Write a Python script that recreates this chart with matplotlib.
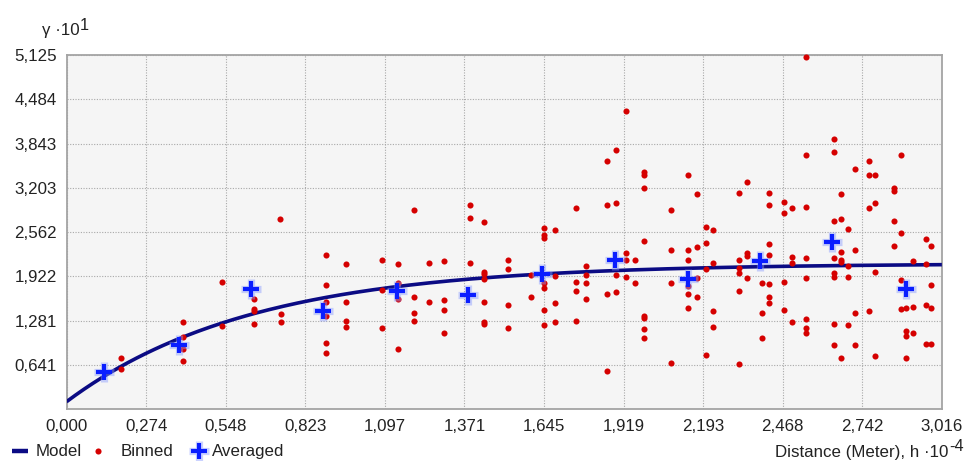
"""
Semivariogram plot: binned and averaged empirical values with the fitted model.
"""

import matplotlib

matplotlib.use("Agg")
import matplotlib.pyplot as plt
import numpy as np
from matplotlib.lines import Line2D

# tick positions and their printed labels
x_max = 3.016
y_max = 5.125
x_tick_labels = ["0,000", "0,274", "0,548", "0,823", "1,097", "1,371",
                 "1,645", "1,919", "2,193", "2,468", "2,742", "3,016"]
y_tick_labels = ["", "0,641", "1,281", "1,922", "2,562", "3,203",
                 "3,843", "4,484", "5,125"]

# exponential model: nugget + partial sill, practical range
nugget = 0.11
partial_sill = 2.0
model_range = 1.91

# averaged semivariance per lag
averaged_h = [0.129, 0.388, 0.635, 0.883, 1.137, 1.384,
              1.639, 1.890, 2.142, 2.391, 2.639, 2.894]
averaged_gamma = [0.544, 0.930, 1.736, 1.422, 1.716, 1.649,
                  1.957, 2.160, 1.881, 2.150, 2.420, 1.736]

# binned semivariance cloud
binned_h = [
    0.187, 0.187, 0.400, 0.400, 0.400, 0.400, 0.537, 0.537, 0.646, 0.646,
    0.646, 0.646, 0.738, 0.738, 0.735, 0.894, 0.894, 0.894, 0.894, 0.894,
    0.894, 0.963, 0.963, 0.963, 0.963, 1.088, 1.088, 1.088, 1.142, 1.142,
    1.142, 1.142, 1.197, 1.197, 1.197, 1.197, 1.250, 1.250, 1.299, 1.299,
    1.299, 1.299, 1.391, 1.391, 1.391, 1.439, 1.439, 1.439, 1.439, 1.439,
    1.439, 1.439, 1.521, 1.521, 1.521, 1.521, 1.601, 1.601, 1.645, 1.645,
    1.645, 1.645, 1.645, 1.645, 1.645, 1.684, 1.684, 1.684, 1.684, 1.754,
    1.754, 1.754, 1.754, 1.791, 1.791, 1.791, 1.791, 1.861, 1.861, 1.861,
    1.861, 1.893, 1.893, 1.893, 1.893, 1.926, 1.926, 1.926, 1.926, 1.958,
    1.958, 1.990, 1.990, 1.990, 1.990, 1.990, 1.990, 1.990, 1.990, 2.083,
    2.083, 2.083, 2.083, 2.142, 2.142, 2.142, 2.142, 2.142, 2.142, 2.174,
    2.174, 2.174, 2.174, 2.202, 2.202, 2.202, 2.202, 2.229, 2.229, 2.229,
    2.229, 2.316, 2.316, 2.316, 2.316, 2.316, 2.316, 2.343, 2.343, 2.343,
    2.343, 2.396, 2.419, 2.419, 2.419, 2.419, 2.419, 2.419, 2.419, 2.397,
    2.397, 2.473, 2.473, 2.473, 2.473, 2.500, 2.500, 2.500, 2.500, 2.547,
    2.547, 2.547, 2.547, 2.547, 2.547, 2.547, 2.547, 2.646, 2.646, 2.667,
    2.646, 2.667, 2.694, 2.667, 2.646, 2.667, 2.667, 2.694, 2.715, 2.646,
    2.646, 2.694, 2.715, 2.646, 2.694, 2.715, 2.646, 2.667, 2.715, 2.765,
    2.765, 2.786, 2.765, 2.786, 2.786, 2.765, 2.786, 2.850, 2.850, 2.874,
    2.850, 2.874, 2.850, 2.874, 2.874, 2.894, 2.916, 2.894, 2.894, 2.916,
    2.894, 2.916, 2.960, 2.980, 2.960, 2.980, 2.960, 2.980, 2.960, 2.980,
]
binned_gamma = [
    0.742, 0.579, 1.263, 1.042, 0.868, 0.694, 1.846, 1.209, 1.596, 1.447,
    1.418, 1.234, 1.374, 1.263, 2.753, 2.232, 1.798, 1.557, 1.350, 0.964,
    0.810, 2.098, 1.552, 1.282, 1.195, 2.160, 1.726, 1.172, 2.098, 1.832,
    1.600, 0.877, 2.883, 1.625, 1.398, 1.282, 2.121, 1.552, 2.141, 1.577,
    1.441, 1.100, 2.951, 2.772, 2.121, 2.705, 1.986, 1.953, 1.885, 1.552,
    1.259, 1.234, 2.164, 2.025, 1.509, 1.172, 1.939, 1.625, 2.619, 2.522,
    2.474, 1.823, 1.759, 1.441, 1.215, 2.594, 1.933, 1.534, 1.259, 2.908,
    1.846, 1.712, 1.282, 2.078, 1.939, 1.823, 1.600, 2.951, 1.668, 0.558,
    3.588, 2.980, 3.747, 1.939, 1.693, 2.257, 2.160, 1.914, 4.311, 2.160,
    1.823, 3.429, 3.394, 3.206, 2.435, 1.350, 1.317, 1.166, 1.036, 2.883,
    2.300, 1.823, 0.674, 3.385, 2.300, 2.160, 1.784, 1.668, 1.466, 3.115,
    2.344, 1.895, 1.625, 2.642, 2.410, 2.025, 0.790, 2.594, 2.121, 1.418,
    1.195, 3.134, 2.160, 2.049, 1.968, 1.716, 0.655, 3.293, 2.257, 2.222,
    1.895, 1.832, 3.134, 2.956, 2.392, 2.232, 1.808, 1.625, 1.534, 1.398,
    1.036, 2.999, 2.844, 1.846, 1.441, 2.908, 2.208, 2.121, 1.263, 5.101,
    3.675, 2.931, 2.185, 1.895, 1.311, 1.172, 1.100, 3.906, 3.723, 3.115,
    2.724, 2.749, 2.613, 2.276, 2.185, 2.160, 2.135, 2.073, 2.300, 1.968,
    1.914, 1.914, 3.472, 1.238, 1.215, 1.398, 0.926, 0.742, 0.926, 3.588,
    3.385, 3.385, 2.908, 2.980, 1.986, 1.422, 0.767, 3.202, 3.163, 3.675,
    2.729, 2.546, 2.367, 1.871, 1.447, 1.466, 1.476, 1.128, 1.060, 1.100,
    0.742, 2.141, 2.459, 2.367, 2.098, 1.803, 1.509, 1.466, 0.945, 0.945,
]

TEXT = "#222222"
MODEL_COLOR = "#0b0b84"
BINNED_COLOR = "#d50000"
AVERAGED_COLOR = "#0a1eff"
HALO_COLOR = "#8a9cff"
FONT_SIZE = 12.2


def exponential_model(h):
    return nugget + partial_sill * (1.0 - np.exp(-3.0 * h / model_range))


def main():
    plt.rcParams["font.family"] = ["Liberation Sans", "DejaVu Sans"]

    fig = plt.figure(figsize=(9.68, 4.61), dpi=100)
    ax = fig.add_axes([0.0687, 0.1121, 0.9043, 0.7685])
    ax.set_facecolor("#f5f5f5")

    ax.set_xlim(0, x_max)
    ax.set_ylim(0, y_max)
    ax.set_xticks(np.linspace(0, x_max, len(x_tick_labels)))
    ax.set_xticklabels(x_tick_labels)
    ax.set_yticks(np.linspace(0, y_max, len(y_tick_labels)))
    ax.set_yticklabels(y_tick_labels)
    ax.tick_params(length=0, labelsize=FONT_SIZE, labelcolor=TEXT)
    ax.tick_params(axis="x", pad=7.2)
    ax.tick_params(axis="y", pad=6.8)

    ax.grid(True, color="#a8a8a8", linestyle=(0, (1, 1.4)), linewidth=0.8)
    ax.set_axisbelow(True)
    for spine in ax.spines.values():
        spine.set_color("#a4a4a4")
        spine.set_linewidth(1.3)

    # fitted model
    h = np.linspace(0, x_max, 300)
    ax.plot(h, exponential_model(h), color=MODEL_COLOR, linewidth=2.6,
            solid_capstyle="butt", zorder=3)

    # binned cloud
    ax.plot(binned_h, binned_gamma, linestyle="none", marker="o",
            markersize=4.4, markeredgewidth=0, color=BINNED_COLOR,
            clip_on=False, zorder=4)

    # averaged values with a soft halo
    ax.plot(averaged_h, averaged_gamma, linestyle="none", marker="+",
            markersize=14, markeredgewidth=5.2, color=HALO_COLOR,
            alpha=0.45, zorder=5)
    ax.plot(averaged_h, averaged_gamma, linestyle="none", marker="+",
            markersize=12, markeredgewidth=3.0, color=AVERAGED_COLOR,
            zorder=6)

    # y caption with raised exponent
    ylab = fig.text(42 / 968, 1 - 31 / 461, "γ ·10", fontsize=FONT_SIZE,
                    color=TEXT, va="center", ha="left")
    ax.annotate("1", xy=(1, 0.5), xycoords=ylab, xytext=(0.3, 4),
                textcoords="offset points", fontsize=FONT_SIZE - 0.5,
                color=TEXT, va="center", ha="left")

    # x caption, exponent pinned to the right edge
    xsup = fig.text(964 / 968, 1 - 446 / 461, "-4", fontsize=FONT_SIZE - 0.5,
                    color=TEXT, va="center", ha="right")
    ax.annotate("Distance (Meter), h ·10", xy=(0, 0.5), xycoords=xsup,
                xytext=(-0.5, -4.5), textcoords="offset points",
                fontsize=FONT_SIZE, color=TEXT, va="center", ha="right")

    # legend row along the bottom
    ly = 1 - 451 / 461
    fig.add_artist(Line2D([12 / 968, 28 / 968], [ly, ly], color=MODEL_COLOR,
                          linewidth=3.2, solid_capstyle="butt"))
    fig.text(36 / 968, ly, "Model", fontsize=FONT_SIZE, color=TEXT,
             va="center", ha="left")
    fig.add_artist(Line2D([97.7 / 968], [ly], marker="o", markersize=4.4,
                          markeredgewidth=0, color=BINNED_COLOR))
    fig.text(121 / 968, ly, "Binned", fontsize=FONT_SIZE, color=TEXT,
             va="center", ha="left")
    fig.add_artist(Line2D([198.7 / 968], [ly], marker="+", markersize=14,
                          markeredgewidth=5.2, color=HALO_COLOR, alpha=0.45))
    fig.add_artist(Line2D([198.7 / 968], [ly], marker="+", markersize=12,
                          markeredgewidth=3.0, color=AVERAGED_COLOR))
    fig.text(212 / 968, ly, "Averaged", fontsize=FONT_SIZE, color=TEXT,
             va="center", ha="left")

    fig.savefig("out.png", dpi=100)


if __name__ == "__main__":
    main()
